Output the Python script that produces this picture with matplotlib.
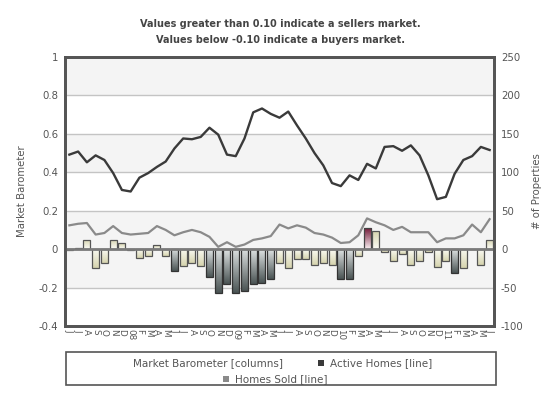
import matplotlib
matplotlib.use("Agg")
import matplotlib.pyplot as plt
from matplotlib.patches import Rectangle
from matplotlib.colors import to_rgb
import numpy as np

# month labels Jun 07 .. Jun 11
months = ['J', 'J', 'A', 'S', 'O', 'N', 'D',
          '08', 'F', 'M', 'A', 'M', 'J', 'J', 'A', 'S', 'O', 'N', 'D',
          '09', 'F', 'M', 'A', 'M', 'J', 'J', 'A', 'S', 'O', 'N', 'D',
          '10', 'F', 'M', 'A', 'M', 'J', 'J', 'A', 'S', 'O', 'N', 'D',
          '11', 'F', 'M', 'A', 'M', 'J']

# market barometer (columns, left axis)
barometer = [-0.005, 0.004, 0.05, -0.10, -0.07, 0.05, 0.03, -0.004, -0.045, -0.035,
             0.02, -0.035, -0.115, -0.09, -0.07, -0.09, -0.145, -0.23, -0.18, -0.23,
             -0.22, -0.18, -0.175, -0.155, -0.07, -0.10, -0.05, -0.05, -0.083, -0.07,
             -0.08, -0.155, -0.155, -0.035, 0.11, 0.093, -0.015, -0.062, -0.026, -0.083,
             -0.062, -0.015, -0.093, -0.062, -0.124, -0.10, 0.002, -0.083, 0.047]

# active homes (black line, right axis)
active_homes = [123, 127, 113, 122, 116, 99, 77, 75, 93, 99,
                107, 114, 131, 144, 143, 146, 158, 149, 123, 121,
                144, 178, 183, 176, 171, 179, 161, 144, 125, 109,
                86, 82, 96, 90, 111, 105, 133, 134, 128, 135,
                122, 96, 65, 68, 98, 116, 121, 133, 129]

# homes sold (gray line, right axis)
homes_sold = [31, 33, 34, 19, 21, 30, 21, 19, 20, 21,
              30, 25, 18, 22, 25, 22, 16, 3, 9, 3,
              6, 12, 14, 17, 32, 27, 31, 28, 21, 19,
              15, 8, 9, 18, 40, 35, 31, 25, 29, 22,
              22, 22, 9, 14, 14, 18, 32, 22, 39]

W, H = 560, 400
fig = plt.figure(figsize=(5.6, 4.0), dpi=100)
ax = fig.add_axes([65 / W, 1 - 326 / H, (494 - 65) / W, (326 - 57) / H])
ax2 = ax.twinx()

x = np.arange(len(months))
ax.set_xlim(-0.5, len(months) - 0.5)
ax.set_ylim(-0.4, 1.0)
ax2.set_ylim(-100, 250)

# background bands + grid
for lo, hi in [(0.8, 1.0), (0.4, 0.6), (-0.2, 0.2)]:
    ax.axhspan(lo, hi, color='#f4f4f4', zorder=0, lw=0)
for yv in [-0.2, 0.2, 0.4, 0.6, 0.8]:
    ax.axhline(yv, color='#c4c4c4', lw=1, zorder=1)


def gradient_bar(xi, h, near, far, edge):
    patch = ax.bar(xi, h, 0.8, facecolor='none', edgecolor=edge, lw=0.9, zorder=3)[0]
    c0, c1 = np.array(to_rgb(near)), np.array(to_rgb(far))
    t = np.linspace(0, 1, 64)[:, None, None]
    img = c0 + (c1 - c0) * t
    im = ax.imshow(img, extent=(xi - 0.4, xi + 0.4, 0, h), origin='lower',
                   aspect='auto', zorder=2, interpolation='bilinear')
    im.set_clip_path(patch)


for xi, v in zip(x, barometer):
    if v > 0.10:
        gradient_bar(xi, v, '#f8eef0', '#6e1232', '#444444')
    elif v < -0.10:
        gradient_bar(xi, v, '#dfe3e3', '#4a5454', '#333333')
    else:
        gradient_bar(xi, v, '#fbfbf5', '#d6d4ae', '#555555')

ax.axhline(0, color='#7a7a7a', lw=2, zorder=4)
ax.set_xlim(-0.5, len(months) - 0.5)
ax.set_ylim(-0.4, 1.0)

ax2.plot(x, homes_sold, color='#8a8a8a', lw=1.6, zorder=5)
ax2.plot(x, active_homes, color='#3a3a3a', lw=1.7, zorder=6)

# ticks
lt = [-0.4, -0.2, 0, 0.2, 0.4, 0.6, 0.8, 1.0]
ax.set_yticks(lt)
ax.set_yticklabels(['-0.4', '-0.2', '0', '0.2', '0.4', '0.6', '0.8', '1'])
rt = [-100, -50, 0, 50, 100, 150, 200, 250]
ax2.set_yticks(rt)
ax2.set_yticklabels([str(v) for v in rt])
ax.set_xticks(x)
ax.set_xticklabels(months, rotation=270, fontsize=6.3, color='#555555')
ax.tick_params(axis='x', length=0, pad=2)
ax.tick_params(axis='y', length=0, pad=5, labelsize=7.3, labelcolor='#555555')
ax2.tick_params(axis='y', length=0, pad=5, labelsize=7.3, labelcolor='#555555')

for a in (ax, ax2):
    for s in a.spines.values():
        s.set_color('#555555')
        s.set_linewidth(2)

fig.text(22 / W, 1 - 191 / H, 'Market Barometer', rotation=90, ha='center', va='center',
         fontsize=7.3, color='#555555')
fig.text(537 / W, 1 - 191 / H, '# of Properties', rotation=90, ha='center', va='center',
         fontsize=7.3, color='#555555')

fig.text(280 / W, 1 - 24 / H, 'Values greater than 0.10 indicate a sellers market.',
         ha='center', va='center', fontsize=7, fontweight='bold', color='#444444')
fig.text(280 / W, 1 - 40 / H, 'Values below -0.10 indicate a buyers market.',
         ha='center', va='center', fontsize=7, fontweight='bold', color='#444444')

# legend box
fig.patches.append(Rectangle((66 / W, 1 - 385 / H), (496 - 66) / W, (385 - 352) / H,
                             transform=fig.transFigure, facecolor='white',
                             edgecolor='#555555', lw=1.2))
fig.text(133 / W, 1 - 363 / H, 'Market Barometer [columns]', ha='left', va='center',
         fontsize=7.5, color='#555555')
fig.patches.append(Rectangle((318 / W, 1 - 366 / H), 6 / W, 6 / H,
                             transform=fig.transFigure, facecolor='#3a3a3a', lw=0))
fig.text(330 / W, 1 - 363 / H, 'Active Homes [line]', ha='left', va='center',
         fontsize=7.5, color='#555555')
fig.patches.append(Rectangle((223 / W, 1 - 382 / H), 6 / W, 6 / H,
                             transform=fig.transFigure, facecolor='#8a8a8a', lw=0))
fig.text(235 / W, 1 - 379 / H, 'Homes Sold [line]', ha='left', va='center',
         fontsize=7.5, color='#555555')

fig.savefig('out.png', dpi=100)
